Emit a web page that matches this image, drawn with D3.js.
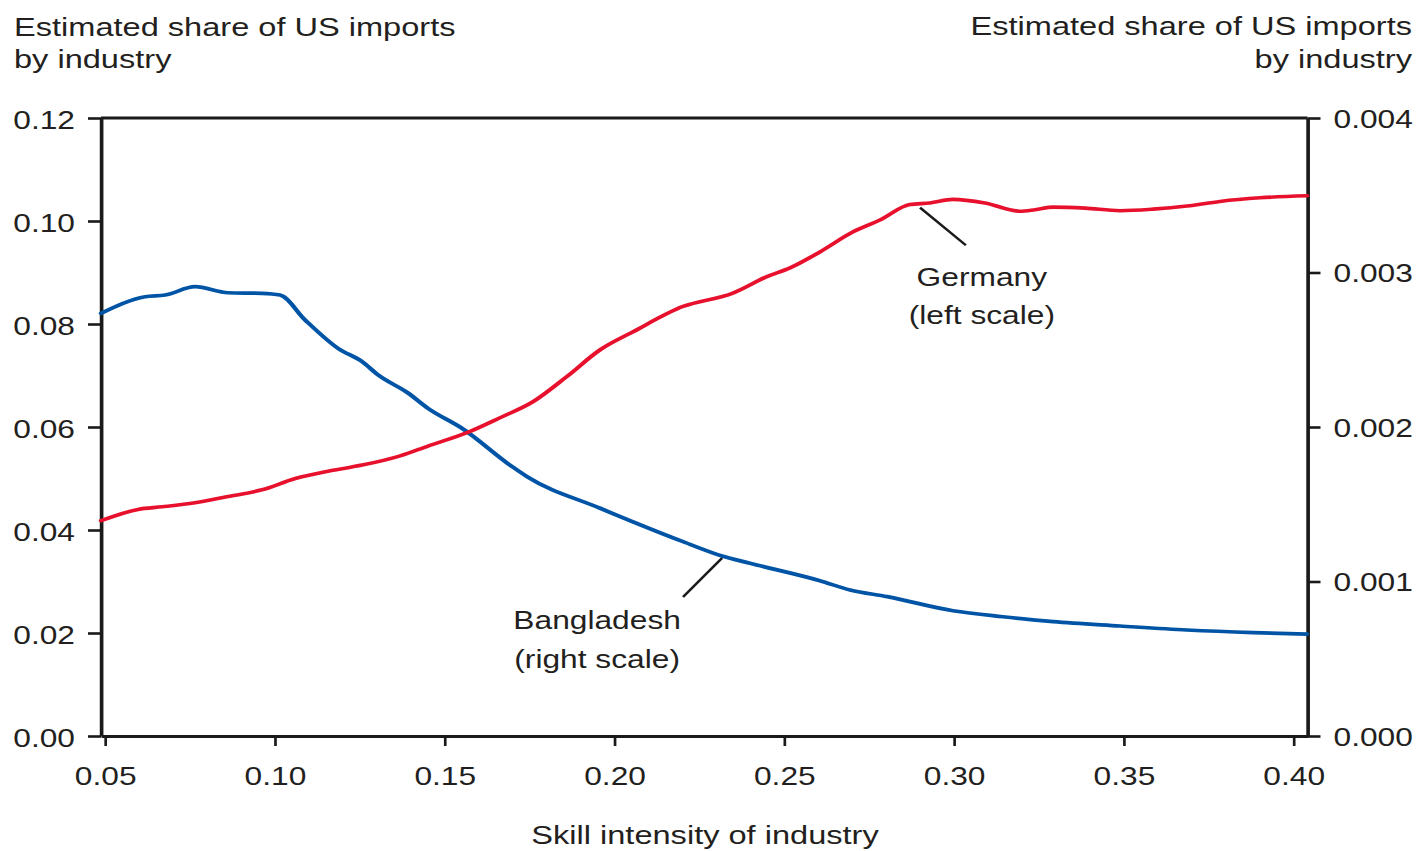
<!DOCTYPE html>
<html>
<head>
<meta charset="utf-8">
<script src="https://cdn.jsdelivr.net/npm/d3@7/dist/d3.min.js"></script>
<style>
  html, body { margin: 0; padding: 0; background: #fff; }
  svg { display: block; }
</style>
</head>
<body>
<svg id="chart"></svg>
<script>
// ---- Data ----
const skill = [0.0488, 0.0597, 0.0668, 0.0765, 0.0862, 0.0962, 0.1060, 0.1163, 0.1257, 0.1369,
  0.1451, 0.1566, 0.1663, 0.1760, 0.1860, 0.1958, 0.2055, 0.2202, 0.2349, 0.2449,
  0.2517, 0.2605, 0.2703, 0.2782, 0.2870, 0.2929, 0.2997, 0.3091, 0.3194, 0.3239,
  0.3292, 0.3386, 0.3489, 0.3586, 0.3686, 0.3783, 0.3901, 0.4040];
const germany = [0.0418, 0.0440, 0.0445, 0.0453, 0.0465, 0.0478, 0.0500, 0.0515, 0.0526, 0.0544,
  0.0563, 0.0589, 0.0618, 0.0649, 0.0698, 0.0750, 0.0785, 0.0834, 0.0860, 0.0892,
  0.0909, 0.0940, 0.0979, 0.1002, 0.1032, 0.1035, 0.1042, 0.1035, 0.1019, 0.1022,
  0.1027, 0.1025, 0.1020, 0.1023, 0.1029, 0.1038, 0.1045, 0.1049];

const skillB = [0.0488, 0.0618, 0.0677, 0.0765, 0.0862, 0.0962, 0.1015, 0.1089, 0.1186, 0.1257,
  0.1304, 0.1392, 0.1451, 0.1551, 0.1699, 0.1743, 0.1958, 0.2202, 0.2317, 0.2399,
  0.2605, 0.2694, 0.2803, 0.2997, 0.3144, 0.3292, 0.3489, 0.3686, 0.3881, 0.4040];
const bangladesh = [0.002736, 0.002843, 0.002854, 0.002908, 0.002869, 0.002865, 0.002854, 0.002693, 0.002509, 0.002423,
  0.002337, 0.002220, 0.002121, 0.001992, 0.001743, 0.001678, 0.001474, 0.001258, 0.001165, 0.001118,
  0.001005, 0.000945, 0.000902, 0.000811, 0.000772, 0.000740, 0.000712, 0.000686, 0.000669, 0.000660];

const xTicks = [0.05, 0.10, 0.15, 0.20, 0.25, 0.30, 0.35, 0.40];
const yLeftTicks = [0, 0.02, 0.04, 0.06, 0.08, 0.10, 0.12];
const yRightTicks = [0, 0.001, 0.002, 0.003, 0.004];

const titleLines = ["Estimated share of US imports", "by industry"];
const xLabel = "Skill intensity of industry";
// annotations: anchor on line, leader end, label position (data units)
const germanyNote = { lines: ["Germany", "(left scale)"], ax: 0.2900, ay: 0.1026, bx: 0.3035, by: 0.0953, tx: 0.3082, ty: 0.0874 };
const bangNote = { lines: ["Bangladesh", "(right scale)"], ax: 0.2317, ay: 0.001152, bx: 0.2202, by: 0.000900, tx: 0.1949, ty: 0.000693 };

// ---- Layout ----
const W = 1424, H = 851;
const SX = 1.22;                // horizontal stretch of the reference picture
const VW = W / SX;
const px = v => v / SX;          // screen-x to viewBox-x
const L = 101, R = 1307.5, T = 118, B = 736;
const FONT = "'Liberation Sans', Arial, Helvetica, sans-serif";
const FS = 26;
const FST = 26.7;
const TXT = "#231f20";
const AX = "#1a1a1a";
const RED = "#e8112d", BLUE = "#0054a6";

const svg = d3.select("#chart")
  .attr("width", W).attr("height", H)
  .attr("viewBox", `0 0 ${VW} ${H}`)
  .attr("preserveAspectRatio", "none");

const x = d3.scaleLinear().domain([0.0488, 0.4041]).range([px(L), px(R)]);
const yL = d3.scaleLinear().domain([0, 0.12]).range([B, T]);
const yR = d3.scaleLinear().domain([0, 0.004]).range([B, T]);

function styleAxis(g) {
  g.selectAll("path.domain").attr("stroke", AX).attr("stroke-width", 3);
  g.selectAll(".tick line").attr("stroke", AX).attr("stroke-width", 2.6);
  g.selectAll(".tick text").attr("fill", TXT).attr("font-family", FONT).attr("font-size", FS);
  g.attr("font-family", FONT).attr("font-size", FS);
}

// left axis
const gL = svg.append("g").attr("transform", `translate(${px(L)},0)`)
  .call(d3.axisLeft(yL).tickValues(yLeftTicks).tickFormat(d3.format(".2f"))
    .tickSize(px(13)).tickSizeOuter(0).tickPadding(px(13)));
styleAxis(gL);
gL.selectAll(".tick text").attr("dy", "0.40em");

// right axis
const gR = svg.append("g").attr("transform", `translate(${px(R)},0)`)
  .call(d3.axisRight(yR).tickValues(yRightTicks).tickFormat(d3.format(".3f"))
    .tickSize(px(13)).tickSizeOuter(0).tickPadding(px(13)));
styleAxis(gR);
gR.selectAll(".tick text").attr("dy", "0.36em");

// bottom axis
const gB = svg.append("g").attr("transform", `translate(0,${B})`)
  .call(d3.axisBottom(x).tickValues(xTicks).tickFormat(d3.format(".2f"))
    .tickSize(10).tickSizeOuter(0).tickPadding(21));
styleAxis(gB);
gB.selectAll(".tick line").attr("stroke-width", 2.2);

// top frame line
svg.append("line")
  .attr("x1", px(L)).attr("x2", px(R)).attr("y1", T).attr("y2", T)
  .attr("stroke", AX).attr("stroke-width", 3);

// ---- Lines ----
const lineG = d3.line().x((d, i) => x(skill[i])).y(d => yL(d)).curve(d3.curveMonotoneX);
const lineB = d3.line().x((d, i) => x(skillB[i])).y(d => yR(d)).curve(d3.curveMonotoneX);

svg.append("path").datum(bangladesh).attr("d", lineB)
  .attr("fill", "none").attr("stroke", BLUE).attr("stroke-width", 3.7)
  .attr("stroke-linejoin", "round").attr("stroke-linecap", "round");
svg.append("path").datum(germany).attr("d", lineG)
  .attr("fill", "none").attr("stroke", RED).attr("stroke-width", 3.6)
  .attr("stroke-linejoin", "round").attr("stroke-linecap", "round");

// ---- Annotations ----
function note(n, ys, spacing) {
  svg.append("line")
    .attr("x1", x(n.ax)).attr("y1", ys(n.ay))
    .attr("x2", x(n.bx)).attr("y2", ys(n.by))
    .attr("stroke", AX).attr("stroke-width", 2.2);
  const t = svg.append("text").attr("font-family", FONT).attr("font-size", FS)
    .attr("fill", TXT).attr("text-anchor", "middle");
  n.lines.forEach((s, i) => {
    t.append("tspan").attr("x", x(n.tx)).attr("y", ys(n.ty) + i * spacing).text(s);
  });
}
note(germanyNote, yL, 38);
note(bangNote, yR, 39);

// ---- Titles ----
const tL = svg.append("text").attr("font-family", FONT).attr("font-size", FST).attr("fill", TXT);
titleLines.forEach((s, i) => tL.append("tspan").attr("x", px(14)).attr("y", 36 + i * 32).text(s));
const tR = svg.append("text").attr("font-family", FONT).attr("font-size", FST).attr("fill", TXT)
  .attr("text-anchor", "end");
titleLines.forEach((s, i) => tR.append("tspan").attr("x", px(1412)).attr("y", 35 + i * 33).text(s));

svg.append("text").attr("font-family", FONT).attr("font-size", FST).attr("fill", TXT)
  .attr("text-anchor", "middle").attr("x", px(705)).attr("y", 844).text(xLabel);
</script>
</body>
</html>
